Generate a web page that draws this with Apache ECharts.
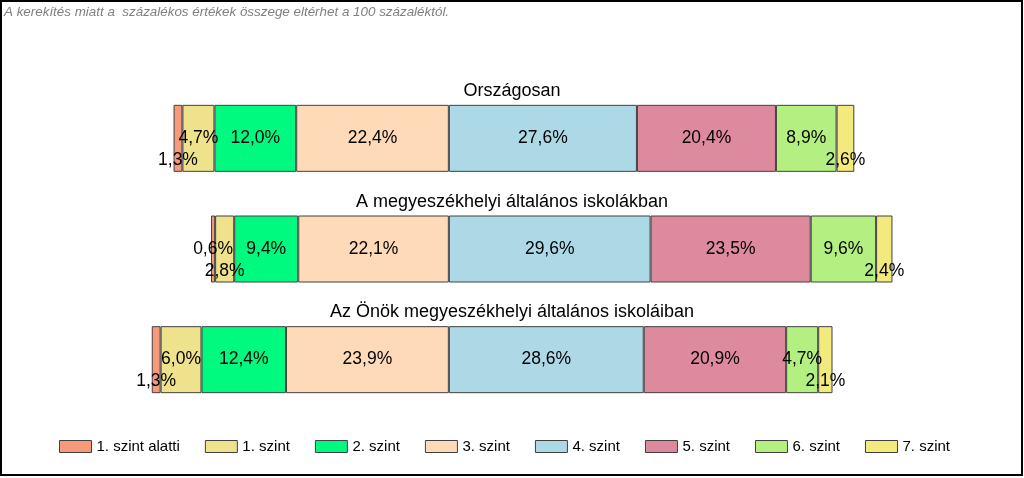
<!DOCTYPE html>
<html>
<head>
<meta charset="utf-8">
<script src="https://cdn.jsdelivr.net/npm/echarts@6/dist/echarts.min.js"></script>
<style>
html,body{margin:0;padding:0;background:#fff;}
#c{width:1024px;height:478px;}
</style>
</head>
<body>
<div id="c"></div>
<script>
var groups = ['Országosan', 'A megyeszékhelyi általános iskolákban', 'Az Önök megyeszékhelyi általános iskoláiban'];
var levelNames = ['1. szint alatti', '1. szint', '2. szint', '3. szint', '4. szint', '5. szint', '6. szint', '7. szint'];
var szintAlatti = [1.3, 0.6, 1.3];
var szint1 = [4.7, 2.8, 6.0];
var szint2 = [12.0, 9.4, 12.4];
var szint3 = [22.4, 22.1, 23.9];
var szint4 = [27.6, 29.6, 28.6];
var szint5 = [20.4, 23.5, 20.9];
var szint6 = [8.9, 9.6, 4.7];
var szint7 = [2.6, 2.4, 2.1];
var note = 'A kerekítés miatt a  százalékos értékek összege eltérhet a 100 százaléktól.';

var colors = ['#F79A7B', '#EEE28C', '#00FA80', '#FFDAB9', '#ADD8E6', '#DE8A9E', '#B3F081', '#F2EA7C'];
// which labels are dropped below the middle (by series index -> category indices)
var droppedLabels = {0: [0, 2], 1: [1], 7: [0, 1, 2]};

var values = [szintAlatti, szint1, szint2, szint3, szint4, szint5, szint6, szint7];
// left side levels (0..3) are drawn as negative values going left from 0
var drawOrder = [3, 2, 1, 0, 4, 5, 6, 7];

function fmt(v) { return Math.abs(v).toFixed(1).replace('.', ',') + '%'; }

var series = drawOrder.map(function (li) {
  var sign = li <= 3 ? -1 : 1;
  var dropped = droppedLabels[li] || [];
  return {
    name: levelNames[li],
    type: 'bar',
    stack: 'all',
    barWidth: 67,
    itemStyle: { color: colors[li], borderColor: '#404040', borderWidth: 1 },
    label: {
      show: true, position: 'inside', color: '#000',
      fontFamily: 'Liberation Sans, Arial', fontSize: 17.5,
      formatter: function (p) { return fmt(p.value); }
    },
    data: values[li].map(function (v, ci) {
      var d = { value: sign * v };
      if (dropped.indexOf(ci) >= 0) d.label = { offset: [0, 22] };
      return d;
    })
  };
});

var titleTops = [77, 188, 298];
var titles = [{
  text: note, left: -1, top: 1,
  textStyle: { fontFamily: 'Liberation Sans, Arial', fontSize: 13.4, fontStyle: 'italic', fontWeight: 'normal', color: '#808080' }
}].concat(groups.map(function (g, i) {
  return {
    text: g, left: 'center', top: titleTops[i],
    textStyle: { fontFamily: 'Liberation Sans, Arial', fontSize: 18, fontWeight: 'normal', color: '#000' }
  };
}));

var chart = echarts.init(document.getElementById('c'), null, { renderer: 'canvas' });
chart.setOption({
  animation: false,
  backgroundColor: '#fff',
  title: titles,
  grid: { left: 40, right: 30, top: 83, bottom: 63 },
  xAxis: { type: 'value', min: -60, max: 80, show: false },
  yAxis: { type: 'category', data: groups, inverse: true, show: false },
  legend: {
    data: levelNames, left: 54, top: 434, itemWidth: 32, itemHeight: 12, itemGap: 25,
    icon: 'rect',
    itemStyle: { borderColor: '#404040', borderWidth: 1 },
    textStyle: { fontFamily: 'Liberation Sans, Arial', fontSize: 15, color: '#000' }
  },
  graphic: [{
    type: 'rect', silent: true, z: 100,
    shape: { x: 1, y: 1, width: 1021, height: 474 },
    style: { fill: null, stroke: '#000', lineWidth: 2 }
  }],
  series: series
});
</script>
</body>
</html>
